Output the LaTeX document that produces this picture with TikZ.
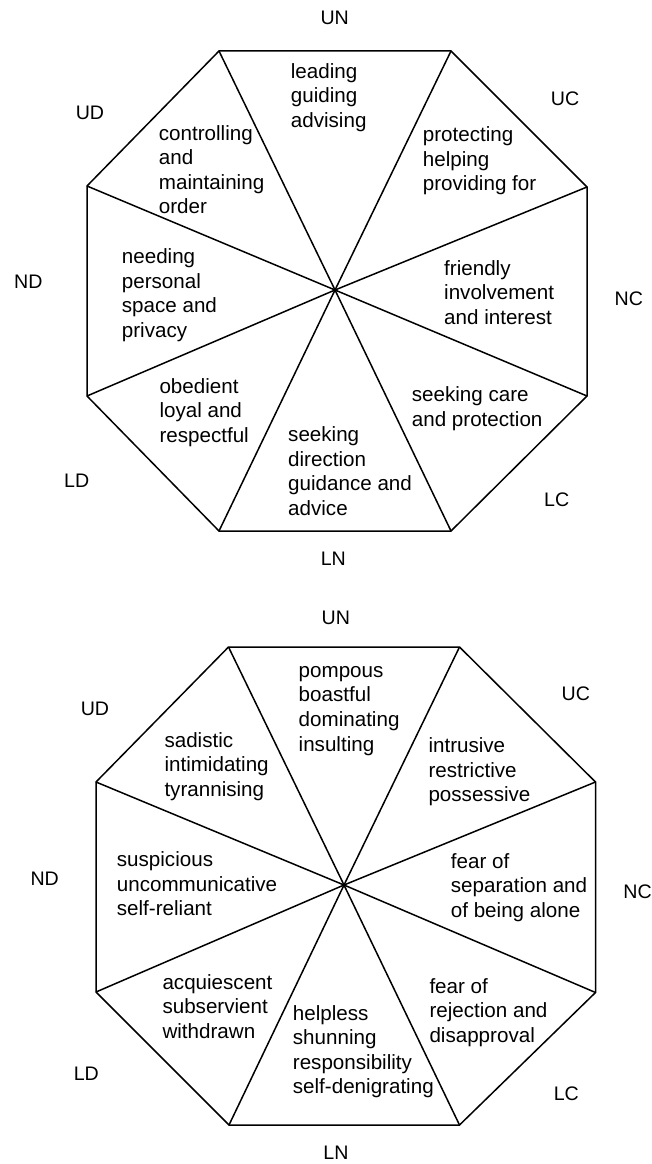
\documentclass[tikz,border=0pt]{standalone}
\usepackage{fontspec}
\setmainfont{Liberation Sans}
\newcommand\blocktext[1]{\begin{tabular}[t]{@{}l@{}}#1\end{tabular}}
\begin{document}
\begin{tikzpicture}[x=1pt,y=-1pt,
  edge/.style={line width=1.5pt, line join=miter},
  lbl/.style={anchor=base, inner sep=0pt, font=\fontsize{19.6}{23}\selectfont},
  txt/.style={anchor=base west, inner sep=0pt, font=\fontsize{20.6}{24.6}\selectfont}]
\useasboundingbox (0,0) rectangle (652,1164);
% ---------- top octagon ----------
\coordinate (A1) at (219,51);
\coordinate (A2) at (451,51);
\coordinate (A3) at (587,187);
\coordinate (A4) at (587,396);
\coordinate (A5) at (451,531);
\coordinate (A6) at (219,531);
\coordinate (A7) at (87,396);
\coordinate (A8) at (87,186);
\coordinate (AC) at (335,290);
\draw[edge] (A1)--(A2)--(A3)--(A4)--(A5)--(A6)--(A7)--(A8)--cycle;
\foreach \i in {1,...,8} \draw[edge] (AC)--(A\i);
\node[txt] (a1) at (290.7,78.3) {\blocktext{leading\\guiding\\advising}};
\node[txt] (a2) at (158.7,140) {\blocktext{controlling\\and\\maintaining\\order}};
\node[txt] (a3) at (121.7,263.5) {\blocktext{needing\\personal\\space and\\privacy}};
\node[txt] (a4) at (159.3,393) {\blocktext{obedient\\loyal and\\respectful}};
\node[txt] (a5) at (288,441.7) {\blocktext{seeking\\direction\\guidance and\\advice}};
\node[txt] (a6) at (411.7,401.7) {\blocktext{seeking care\\and protection}};
\node[txt] (a7) at (444,275) {\blocktext{friendly\\involvement\\and interest}};
\node[txt] (a8) at (422.7,141.7) {\blocktext{protecting\\helping\\providing for}};
\node[lbl] (aUN) at (334.7,25) {UN};
\node[lbl] (aUC) at (565,105) {UC};
\node[lbl] (aNC) at (628.8,305.5) {NC};
\node[lbl] (aLC) at (556.7,506.5) {LC};
\node[lbl] (aLN) at (333.3,565) {LN};
\node[lbl] (aLD) at (76.7,487) {LD};
\node[lbl] (aND) at (28.3,288) {ND};
\node[lbl] (aUD) at (90,119.3) {UD};
% ---------- bottom octagon ----------
\coordinate (B1) at (228.5,647);
\coordinate (B2) at (459.5,647);
\coordinate (B3) at (595.5,782);
\coordinate (B4) at (595.5,992.5);
\coordinate (B5) at (459.5,1125);
\coordinate (B6) at (229,1125);
\coordinate (B7) at (96,992);
\coordinate (B8) at (96,782);
\coordinate (BC) at (344,885);
\draw[edge] (B1)--(B2)--(B3)--(B4)--(B5)--(B6)--(B7)--(B8)--cycle;
\foreach \i in {1,...,8} \draw[edge] (BC)--(B\i);
\node[txt] (b1) at (298.5,677.3) {\blocktext{pompous\\boastful\\dominating\\insulting}};
\node[txt] (b2) at (164.3,747.3) {\blocktext{sadistic\\intimidating\\tyrannising}};
\node[txt] (b3) at (116.7,866.7) {\blocktext{suspicious\\uncommunicative\\self-reliant}};
\node[txt] (b4) at (162.3,989.3) {\blocktext{acquiescent\\subservient\\withdrawn}};
\node[txt] (b5) at (292.7,1020) {\blocktext{helpless\\shunning\\responsibility\\self-denigrating}};
\node[txt] (b6) at (429.3,993.3) {\blocktext{fear of\\rejection and\\disapproval}};
\node[txt] (b7) at (450.7,868.3) {\blocktext{fear of\\separation and\\of being alone}};
\node[txt] (b8) at (428.3,752.7) {\blocktext{intrusive\\restrictive\\possessive}};
\node[lbl] (bUN) at (335.8,624.3) {UN};
\node[lbl] (bUC) at (575.8,700) {UC};
\node[lbl] (bNC) at (637.5,898.5) {NC};
\node[lbl] (bLC) at (566.3,1100.5) {LC};
\node[lbl] (bLN) at (336,1159.5) {LN};
\node[lbl] (bLD) at (86.3,1080.7) {LD};
\node[lbl] (bND) at (44.7,885) {ND};
\node[lbl] (bUD) at (95,715.7) {UD};
\end{tikzpicture}
\end{document}
